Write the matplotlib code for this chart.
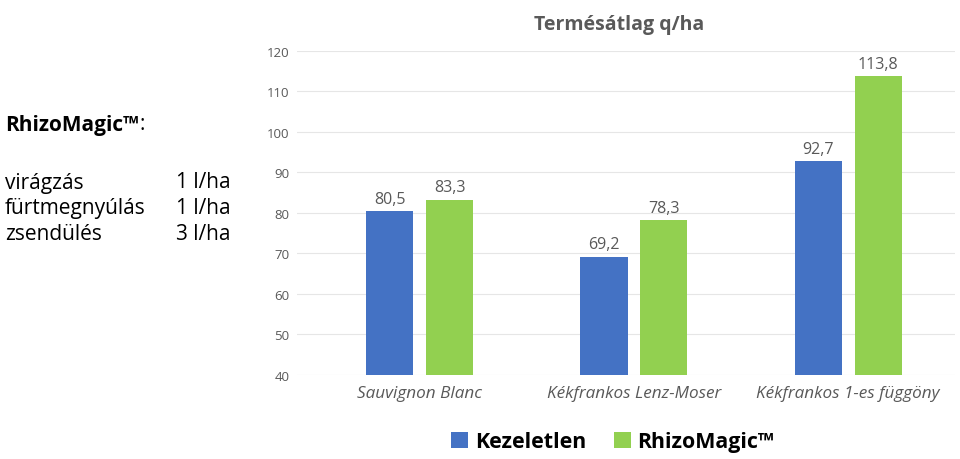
import numpy as np
import matplotlib.pyplot as plt

categories = ["Sauvignon Blanc", "Kékfrankos Lenz-Moser", "Kékfrankos 1-es függöny"]
kezeletlen = [80.5, 69.2, 92.7]
rhizomagic = [83.3, 78.3, 113.8]
series_names = ["Kezeletlen", "RhizoMagic™"]
doses = [("virágzás", "1 l/ha"), ("fürtmegnyúlás", "1 l/ha"), ("zsendülés", "3 l/ha")]

BLUE = "#4472C4"
GREEN = "#92D050"
GRAY = "#595959"

plt.rcParams["font.family"] = ["Open Sans", "DejaVu Sans"]

fig = plt.figure(figsize=(9.6, 4.6), dpi=100)
ax = fig.add_axes([0.309, 0.183, 0.686, 0.704])

x = np.arange(len(categories))
w = 0.22
off = 0.14
b1 = ax.bar(x - off, kezeletlen, w, color=BLUE, label=series_names[0], zorder=3)
b2 = ax.bar(x + off, rhizomagic, w, color=GREEN, label=series_names[1], zorder=3)

for bars in (b1, b2):
    for bar in bars:
        h = bar.get_height()
        ax.annotate(f"{h:.1f}".replace(".", ","),
                    (bar.get_x() + bar.get_width() / 2, h),
                    xytext=(0, 3), textcoords="offset points",
                    ha="center", va="bottom", fontsize=11.5, color=GRAY)

ax.set_ylim(40, 120)
ax.set_xlim(-0.575, 2.5)
ax.set_yticks(np.arange(40, 121, 10))
ax.yaxis.grid(True, color="#e6e6e6", linewidth=0.8, zorder=0)
ax.set_xticks(x)
ax.set_xticklabels(categories, fontstyle="italic", fontsize=12.3, color=GRAY)
ax.tick_params(axis="y", labelsize=9.5, labelcolor=GRAY, length=0, pad=5)
ax.tick_params(axis="x", length=0, pad=7)
for s in ax.spines.values():
    s.set_visible(False)

ax.set_title("Termésátlag q/ha", fontsize=14, fontweight="bold", color=GRAY,
             pad=16, x=0.49)

ax.legend(loc="upper center", bbox_to_anchor=(0.48, -0.115), ncol=2, frameon=False,
          prop={"weight": "bold", "size": 15.4}, handlelength=0.8, handleheight=0.8,
          columnspacing=1.3, handletextpad=0.3)

# left side text block
fs = 15
t = fig.text(0.005, 1 - 125 / 460, "RhizoMagic™", fontsize=fs, fontweight="bold",
             va="center", ha="left")
fig.canvas.draw()
bb = t.get_window_extent(fig.canvas.get_renderer())
fig.text(bb.x1 / fig.bbox.width + 0.001, 1 - 125 / 460, ":", fontsize=fs,
         va="center", ha="left")
for i, (stage, dose) in enumerate(doses):
    yy = 1 - (183 + 26 * i) / 460
    fig.text(0.005, yy, stage, fontsize=fs, va="center", ha="left")
    fig.text(0.24, yy, dose, fontsize=fs, va="center", ha="right")

fig.savefig("out.png", dpi=100)
